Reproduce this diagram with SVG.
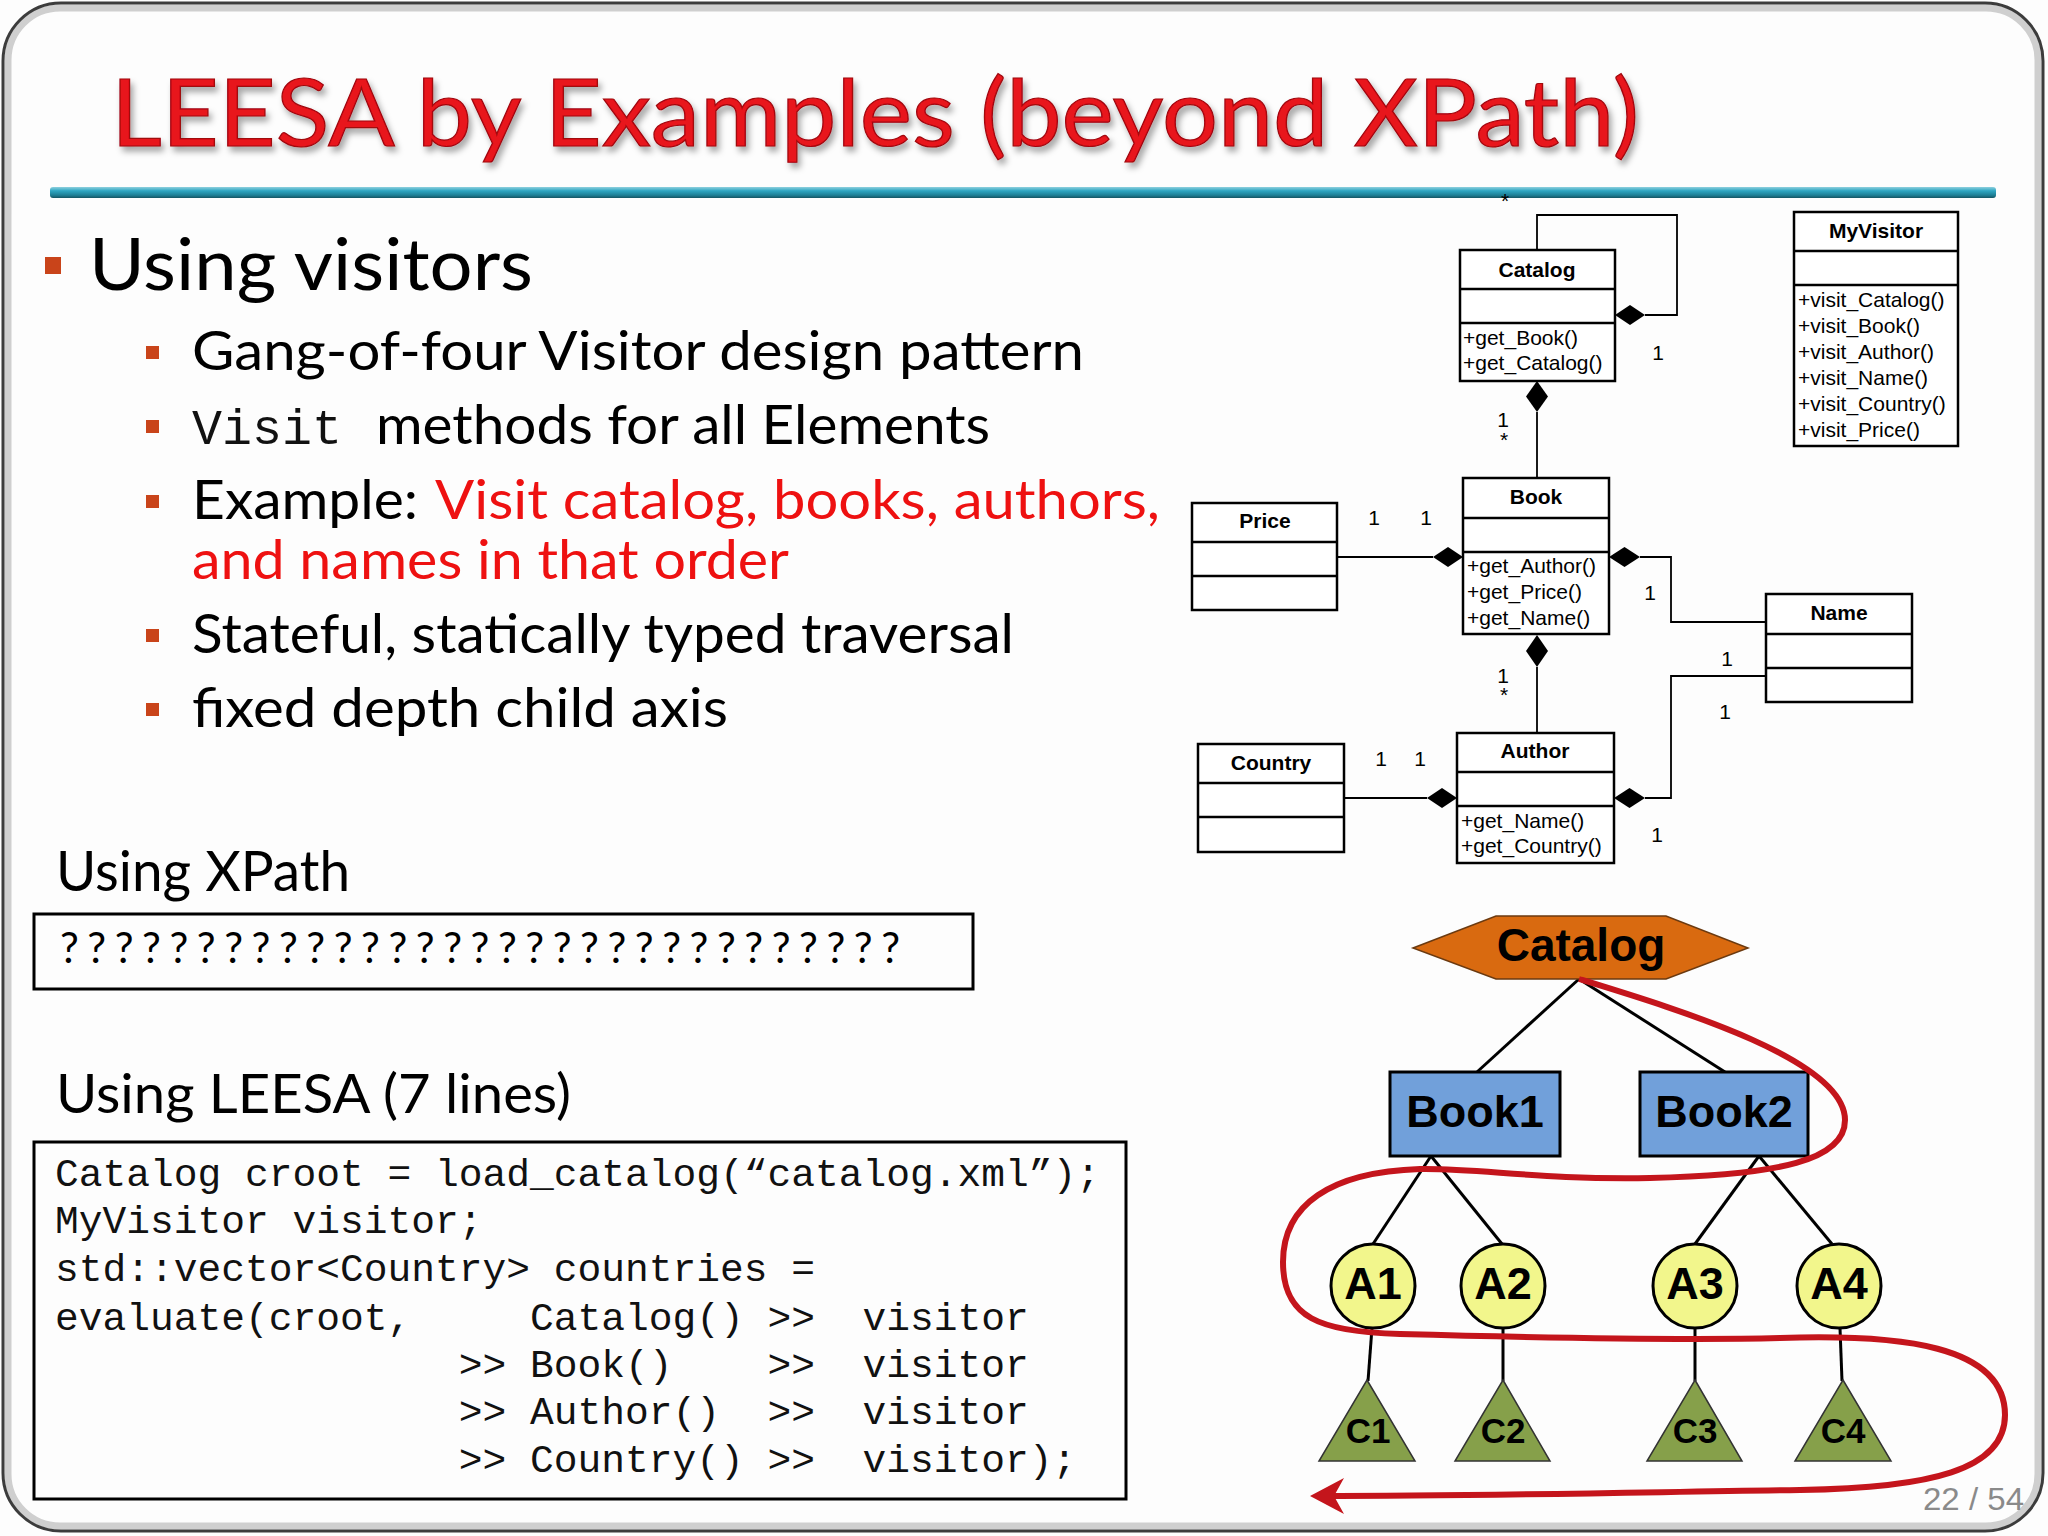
<svg xmlns="http://www.w3.org/2000/svg" width="2048" height="1536" viewBox="0 0 2048 1536">
<defs>
<linearGradient id="rule" x1="0" y1="0" x2="0" y2="1">
<stop offset="0" stop-color="#8fd0de"/><stop offset="0.35" stop-color="#2ea6c2"/><stop offset="0.75" stop-color="#1e7f95"/><stop offset="1" stop-color="#145563"/>
</linearGradient>
<filter id="shadow" x="-5%" y="-20%" width="110%" height="150%">
<feDropShadow dx="3" dy="5" stdDeviation="3" flood-color="#000" flood-opacity="0.35"/>
</filter>
<marker id="arrow" viewBox="0 0 40 40" refX="30" refY="20" markerWidth="40" markerHeight="40" markerUnits="userSpaceOnUse" orient="auto">
<path d="M38,20 L4,2 L14,20 L4,38 Z" fill="#c4151c"/>
</marker>
</defs>
<style>
.body{font-family:Lato,"Open Sans","Noto Sans",sans-serif;fill:#000}
.red{fill:#ee1111}
.bul{fill:#c9441a}
.mono{font-family:"Liberation Mono","DejaVu Sans Mono",monospace;fill:#111}
.box{fill:none;stroke:#000;stroke-width:3}
.uml rect{fill:#fff;stroke:#000;stroke-width:2.5}
.uml line{stroke:#000;stroke-width:2.5}
.cn{font-family:"Liberation Sans",Arial,sans-serif;font-weight:bold;font-size:21px;text-anchor:middle;fill:#000}
.op{font-family:"Liberation Sans",Arial,sans-serif;font-size:21px;fill:#000}
.lbl{font-family:"Liberation Sans",Arial,sans-serif;font-size:21px;fill:#000;text-anchor:middle}
.assoc{fill:none;stroke:#000;stroke-width:1.8}
.dia{fill:#000}
.tl{stroke:#000;stroke-width:3;fill:none}
.tt{font-family:"Liberation Sans",Arial,sans-serif;font-weight:bold;text-anchor:middle;fill:#000}
</style>
<rect x="0" y="0" width="2048" height="1536" fill="#fdfdfd"/>
<rect x="8" y="8" width="2030" height="1518" rx="52" fill="none" stroke="#cfcfcf" stroke-width="7"/>
<rect x="3" y="3" width="2040" height="1528" rx="58" fill="none" stroke="#3c3c3c" stroke-width="3"/>

<text x="111" y="146" font-family="Lato,'Open Sans',sans-serif" font-size="94" fill="#e8121b" stroke="#a0070d" stroke-width="1.2" filter="url(#shadow)" textLength="1528" lengthAdjust="spacingAndGlyphs">LEESA by Examples (beyond XPath)</text>
<rect x="50" y="187" width="1946" height="11" rx="3" fill="url(#rule)"/>

<g id="bullets">
<rect class="bul" x="45" y="257" width="16" height="17"/>
<text class="body" x="89" y="290" font-size="71" textLength="444" lengthAdjust="spacingAndGlyphs">Using visitors</text>
<rect class="bul" x="146" y="346" width="13" height="13"/>
<text class="body" x="192" y="370" font-size="54" textLength="892" lengthAdjust="spacingAndGlyphs">Gang-of-four Visitor design pattern</text>
<rect class="bul" x="146" y="420" width="13" height="13"/>
<text class="mono" x="192" y="444" font-size="50">Visit</text>
<text class="body" x="376" y="444" font-size="54" textLength="614" lengthAdjust="spacingAndGlyphs">methods for all Elements</text>
<rect class="bul" x="146" y="495" width="13" height="13"/>
<text class="body" x="192" y="519" font-size="54" textLength="226" lengthAdjust="spacingAndGlyphs">Example:</text>
<text class="body red" x="435" y="519" font-size="54" textLength="725" lengthAdjust="spacingAndGlyphs">Visit catalog, books, authors,</text>
<text class="body red" x="192" y="579" font-size="54" textLength="597" lengthAdjust="spacingAndGlyphs">and names in that order</text>
<rect class="bul" x="146" y="629" width="13" height="13"/>
<text class="body" x="192" y="653" font-size="54" textLength="822" lengthAdjust="spacingAndGlyphs">Stateful, statically typed traversal</text>
<rect class="bul" x="146" y="703" width="13" height="13"/>
<text class="body" x="192" y="727" font-size="54" textLength="536" lengthAdjust="spacingAndGlyphs">fixed depth child axis</text>
</g>

<g id="xpath">
<text class="body" x="56" y="891" font-size="56" textLength="294" lengthAdjust="spacingAndGlyphs">Using XPath</text>
<rect class="box" x="34" y="914" width="939" height="75"/>
<text class="body" x="60" y="963" font-size="42" textLength="840" lengthAdjust="spacing">???????????????????????????????</text>
</g>

<g id="leesa">
<text class="body" x="56" y="1113" font-size="55" textLength="515" lengthAdjust="spacingAndGlyphs">Using LEESA (7 lines)</text>
<rect class="box" x="34" y="1142" width="1092" height="357"/>
<g class="mono" font-size="39.6">
<text x="55" y="1186">Catalog croot = load_catalog(“catalog.xml”);</text>
<text x="55" y="1233">MyVisitor visitor;</text>
<text x="55" y="1281">std::vector&lt;Country&gt; countries =</text>
<text y="1330"><tspan x="55">evaluate(croot,</tspan><tspan x="530">Catalog()</tspan><tspan x="767.5">&gt;&gt;</tspan><tspan x="862.5">visitor</tspan></text>
<text y="1377"><tspan x="458.75">&gt;&gt;</tspan><tspan x="530">Book()</tspan><tspan x="767.5">&gt;&gt;</tspan><tspan x="862.5">visitor</tspan></text>
<text y="1424"><tspan x="458.75">&gt;&gt;</tspan><tspan x="530">Author()</tspan><tspan x="767.5">&gt;&gt;</tspan><tspan x="862.5">visitor</tspan></text>
<text y="1472"><tspan x="458.75">&gt;&gt;</tspan><tspan x="530">Country()</tspan><tspan x="767.5">&gt;&gt;</tspan><tspan x="862.5">visitor);</tspan></text>
</g>
</g>

<g id="uml-connectors">
<polyline class="assoc" points="1537,250 1537,215 1677,215 1677,315 1645,315"/>
<path class="dia" d="M1615,315 L1630,305 L1645,315 L1630,325 Z"/>
<line class="assoc" x1="1537" y1="412" x2="1537" y2="478"/>
<path class="dia" d="M1537,381 L1548,396.5 L1537,412 L1526,396.5 Z"/>
<line class="assoc" x1="1337" y1="557" x2="1433" y2="557"/>
<path class="dia" d="M1433,557 L1448,547 L1463,557 L1448,567 Z"/>
<polyline class="assoc" points="1640,557 1671,557 1671,622 1766,622"/>
<path class="dia" d="M1609,557 L1624.5,547 L1640,557 L1624.5,567 Z"/>
<line class="assoc" x1="1537" y1="667" x2="1537" y2="733"/>
<path class="dia" d="M1537,635 L1548,651 L1537,667 L1526,651 Z"/>
<line class="assoc" x1="1344" y1="798" x2="1427" y2="798"/>
<path class="dia" d="M1427,798 L1442,788 L1457,798 L1442,808 Z"/>
<polyline class="assoc" points="1766,676 1671,676 1671,798 1645,798"/>
<path class="dia" d="M1614,798 L1629.5,788 L1645,798 L1629.5,808 Z"/>
<text class="lbl" x="1505" y="208">*</text>
<text class="lbl" x="1658" y="360">1</text>
<text class="lbl" x="1503" y="427">1</text>
<text class="lbl" x="1504" y="447">*</text>
<text class="lbl" x="1374" y="525">1</text>
<text class="lbl" x="1426" y="525">1</text>
<text class="lbl" x="1650" y="600">1</text>
<text class="lbl" x="1503" y="683">1</text>
<text class="lbl" x="1504" y="702">*</text>
<text class="lbl" x="1381" y="766">1</text>
<text class="lbl" x="1420" y="766">1</text>
<text class="lbl" x="1727" y="666">1</text>
<text class="lbl" x="1725" y="719">1</text>
<text class="lbl" x="1657" y="842">1</text>
</g>

<g class="uml">
<g id="uml-catalog">
<rect x="1460" y="250" width="155" height="131"/>
<line x1="1460" y1="289" x2="1615" y2="289"/><line x1="1460" y1="323" x2="1615" y2="323"/>
<text class="cn" x="1537" y="277">Catalog</text>
<text class="op" x="1463" y="345">+get_Book()</text>
<text class="op" x="1463" y="370">+get_Catalog()</text>
</g>
<g id="uml-myvisitor">
<rect x="1794" y="212" width="164" height="234"/>
<line x1="1794" y1="251" x2="1958" y2="251"/><line x1="1794" y1="285" x2="1958" y2="285"/>
<text class="cn" x="1876" y="238">MyVisitor</text>
<text class="op" x="1798" y="307">+visit_Catalog()</text>
<text class="op" x="1798" y="333">+visit_Book()</text>
<text class="op" x="1798" y="359">+visit_Author()</text>
<text class="op" x="1798" y="385">+visit_Name()</text>
<text class="op" x="1798" y="411">+visit_Country()</text>
<text class="op" x="1798" y="437">+visit_Price()</text>
</g>
<g id="uml-book">
<rect x="1463" y="478" width="146" height="156"/>
<line x1="1463" y1="518" x2="1609" y2="518"/><line x1="1463" y1="552" x2="1609" y2="552"/>
<text class="cn" x="1536" y="504">Book</text>
<text class="op" x="1467" y="573">+get_Author()</text>
<text class="op" x="1467" y="599">+get_Price()</text>
<text class="op" x="1467" y="625">+get_Name()</text>
</g>
<g id="uml-price">
<rect x="1192" y="503" width="145" height="107"/>
<line x1="1192" y1="542" x2="1337" y2="542"/><line x1="1192" y1="576" x2="1337" y2="576"/>
<text class="cn" x="1265" y="528">Price</text>
</g>
<g id="uml-name">
<rect x="1766" y="594" width="146" height="108"/>
<line x1="1766" y1="634" x2="1912" y2="634"/><line x1="1766" y1="668" x2="1912" y2="668"/>
<text class="cn" x="1839" y="620">Name</text>
</g>
<g id="uml-author">
<rect x="1457" y="733" width="157" height="130"/>
<line x1="1457" y1="772" x2="1614" y2="772"/><line x1="1457" y1="806" x2="1614" y2="806"/>
<text class="cn" x="1535" y="758">Author</text>
<text class="op" x="1461" y="828">+get_Name()</text>
<text class="op" x="1461" y="853">+get_Country()</text>
</g>
<g id="uml-country">
<rect x="1198" y="744" width="146" height="108"/>
<line x1="1198" y1="783" x2="1344" y2="783"/><line x1="1198" y1="817" x2="1344" y2="817"/>
<text class="cn" x="1271" y="770">Country</text>
</g>
</g>

<g id="tree-connectors">
<line class="tl" x1="1579" y1="979" x2="1477" y2="1072"/>
<line class="tl" x1="1579" y1="979" x2="1725" y2="1072"/>
<line class="tl" x1="1431" y1="1156" x2="1373" y2="1244"/>
<line class="tl" x1="1431" y1="1156" x2="1502" y2="1244"/>
<line class="tl" x1="1759" y1="1156" x2="1695" y2="1244"/>
<line class="tl" x1="1759" y1="1156" x2="1832" y2="1244"/>
<line class="tl" x1="1372" y1="1328" x2="1368" y2="1381"/>
<line class="tl" x1="1503" y1="1328" x2="1503" y2="1381"/>
<line class="tl" x1="1695" y1="1328" x2="1695" y2="1381"/>
<line class="tl" x1="1840" y1="1328" x2="1842" y2="1381"/>
</g>

<g id="t-catalog">
<polygon points="1413,948 1496,916 1666,916 1748,948 1666,979 1496,979" fill="#d96a10" stroke="#6b3a10" stroke-width="1.5"/>
<text class="tt" x="1581" y="961" font-size="46">Catalog</text>
</g>
<g id="t-book1">
<rect x="1390" y="1072" width="170" height="84" fill="#71a0da" stroke="#000" stroke-width="3"/>
<text class="tt" x="1475" y="1127" font-size="45">Book1</text>
</g>
<g id="t-book2">
<rect x="1640" y="1072" width="168" height="84" fill="#71a0da" stroke="#000" stroke-width="3"/>
<text class="tt" x="1724" y="1127" font-size="45">Book2</text>
</g>
<g id="t-a1"><ellipse cx="1373" cy="1286" rx="42" ry="42" fill="#f2f68c" stroke="#000" stroke-width="3"/><text class="tt" x="1373" y="1299" font-size="45">A1</text></g>
<g id="t-a2"><ellipse cx="1503" cy="1286" rx="42" ry="42" fill="#f2f68c" stroke="#000" stroke-width="3"/><text class="tt" x="1503" y="1299" font-size="45">A2</text></g>
<g id="t-a3"><ellipse cx="1695" cy="1286" rx="42" ry="42" fill="#f2f68c" stroke="#000" stroke-width="3"/><text class="tt" x="1695" y="1299" font-size="45">A3</text></g>
<g id="t-a4"><ellipse cx="1839" cy="1286" rx="42" ry="42" fill="#f2f68c" stroke="#000" stroke-width="3"/><text class="tt" x="1839" y="1299" font-size="45">A4</text></g>
<g id="t-c1"><polygon points="1367,1380 1415,1461 1319,1461" fill="#86a04a" stroke="#333" stroke-width="1.5"/><text class="tt" x="1368" y="1443" font-size="35">C1</text></g>
<g id="t-c2"><polygon points="1503,1380 1550,1461 1455,1461" fill="#86a04a" stroke="#333" stroke-width="1.5"/><text class="tt" x="1503" y="1443" font-size="35">C2</text></g>
<g id="t-c3"><polygon points="1695,1380 1742,1461 1647,1461" fill="#86a04a" stroke="#333" stroke-width="1.5"/><text class="tt" x="1695" y="1443" font-size="35">C3</text></g>
<g id="t-c4"><polygon points="1843,1380 1891,1461 1795,1461" fill="#86a04a" stroke="#333" stroke-width="1.5"/><text class="tt" x="1843" y="1443" font-size="35">C4</text></g>

<g id="traversal">
<path d="M1579,979 C1680,1010 1845,1060 1845,1120 C1845,1160 1780,1175 1650,1178 C1540,1180 1480,1168 1420,1169 C1330,1172 1283,1205 1283,1262 C1283,1318 1320,1332 1400,1334 C1550,1338 1700,1340 1780,1338 C1900,1334 2005,1345 2005,1415 C2005,1470 1930,1488 1800,1490 C1650,1492 1500,1496 1318,1496" fill="none" stroke="#c4151c" stroke-width="6" marker-end="url(#arrow)"/>
</g>

<text x="1923" y="1510" font-family="'Liberation Sans',Arial,sans-serif" font-size="32" fill="#8a8a8a" textLength="101" lengthAdjust="spacingAndGlyphs">22 / 54</text>
</svg>
